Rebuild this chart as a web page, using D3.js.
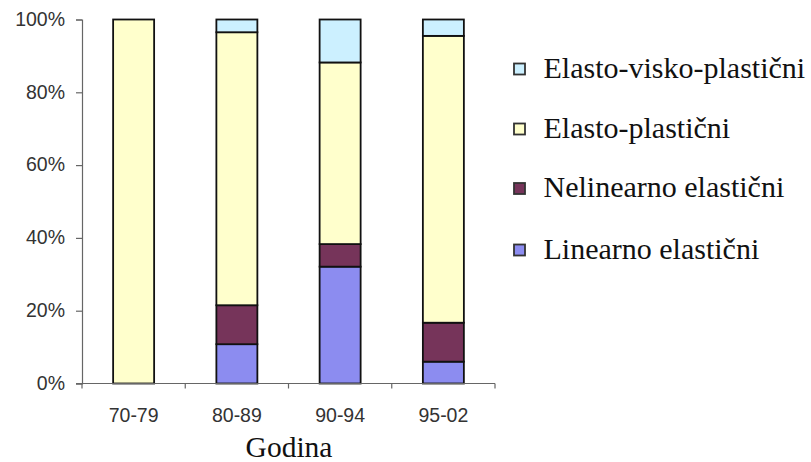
<!DOCTYPE html>
<html>
<head>
<meta charset="utf-8">
<script src="https://cdn.jsdelivr.net/npm/d3@7"></script>
<style>
  html, body { margin: 0; padding: 0; background: #fff; }
  svg { display: block; }
</style>
</head>
<body>
<svg id="chart" width="811" height="462"></svg>
<script>
// Categories (time periods) and stacked shares per material model (in %)
const categories = ["70-79", "80-89", "90-94", "95-02"];
const linearnoElasticni = [0, 10.8, 32.1, 6.0];
const nelinearnoElasticni = [0, 10.7, 6.2, 10.7];
const elastoPlasticni = [100, 75.0, 49.9, 78.8];
const elastoViskoPlasticni = [0, 3.5, 11.8, 4.5];
const yTicks = [0, 20, 40, 60, 80, 100];
const seriesNames = ["Linearno elastični", "Nelinearno elastični", "Elasto-plastični", "Elasto-visko-plastični"];
const seriesColors = ["#8c8cf0", "#76345a", "#ffffcc", "#ccf0ff"];
const xTitle = "Godina";

const seriesValues = [linearnoElasticni, nelinearnoElasticni, elastoPlasticni, elastoViskoPlasticni];
const rows = categories.map((c, i) => {
  const r = { cat: c };
  seriesNames.forEach((s, k) => { r[s] = seriesValues[k][i]; });
  return r;
});
const stacked = d3.stack().keys(seriesNames)(rows);

const svg = d3.select("#chart");
const x0 = 82, x1 = 495, yTop = 19.5, yBot = 383.5;
const sans = "Liberation Sans, Arial, sans-serif";
const serif = "Liberation Serif, Times New Roman, serif";

const x = d3.scaleBand().domain(categories).range([x0, x1]).paddingInner(0).paddingOuter(0);
const y = d3.scaleLinear().domain([0, 100]).range([yBot, yTop]);
const barW = 41;

// Bars
svg.append("g").selectAll("g")
  .data(stacked)
  .join("g")
  .attr("fill", (d, i) => seriesColors[i])
  .selectAll("rect")
  .data(d => d.filter(p => p[1] - p[0] > 0))
  .join("rect")
  .attr("x", d => x(d.data.cat) + x.bandwidth() / 2 - barW / 2)
  .attr("width", barW)
  .attr("y", d => y(d[1]))
  .attr("height", d => y(d[0]) - y(d[1]))
  .attr("stroke", "#111")
  .attr("stroke-width", 1.8);

// Y axis
const yAxis = d3.axisLeft(y).tickValues(yTicks).tickFormat(d => d + "%").tickSize(6).tickPadding(11);
const gy = svg.append("g").attr("transform", `translate(${x0},0)`).call(yAxis);
gy.select(".domain").attr("stroke", "#666").attr("stroke-width", 1.2);
gy.selectAll(".tick line").attr("stroke", "#666").attr("stroke-width", 1.2);
gy.selectAll(".tick text")
  .attr("font-family", sans)
  .attr("font-size", 19.5).attr("fill", "#333")
  .attr("dy", "0.3em");

// X axis with ticks at category boundaries
const gx = svg.append("g").attr("transform", `translate(0,${yBot})`);
gx.append("line").attr("x1", x0 - 6).attr("x2", x1).attr("y1", 0).attr("y2", 0)
  .attr("stroke", "#666").attr("stroke-width", 1.2);
const bounds = categories.map(c => x(c)).concat([x1]);
gx.selectAll("line.tk").data(bounds).join("line").attr("class", "tk")
  .attr("x1", d => d).attr("x2", d => d).attr("y1", 0).attr("y2", 5)
  .attr("stroke", "#666").attr("stroke-width", 1.2);
gx.selectAll("text").data(categories).join("text")
  .attr("x", d => x(d) + x.bandwidth() / 2)
  .attr("y", 38.5)
  .attr("text-anchor", "middle")
  .attr("font-family", sans)
  .attr("font-size", 19.5).attr("fill", "#333")
  .text(d => d);

// X axis title
svg.append("text")
  .attr("x", 289).attr("y", 457)
  .attr("text-anchor", "middle")
  .attr("font-family", serif)
  .attr("font-size", 29.5).attr("fill", "#111")
  .text(xTitle);

// Legend (listed top-down in reverse stacking order)
const legendOrder = seriesNames.map((n, i) => ({ name: n, color: seriesColors[i] })).reverse();
const legendY = [69, 129, 188.5, 250];
const items = svg.append("g").selectAll("g").data(legendOrder).join("g")
  .attr("transform", (d, i) => `translate(514,${legendY[i]})`);
items.append("rect").attr("x", 0).attr("y", -5.5).attr("width", 11).attr("height", 11)
  .attr("fill", d => d.color).attr("stroke", "#333").attr("stroke-width", 1.8);
items.append("text").attr("x", 29.5).attr("y", 8.5)
  .attr("font-family", serif)
  .attr("font-size", 30).attr("fill", "#111")
  .text(d => d.name);
</script>
</body>
</html>
